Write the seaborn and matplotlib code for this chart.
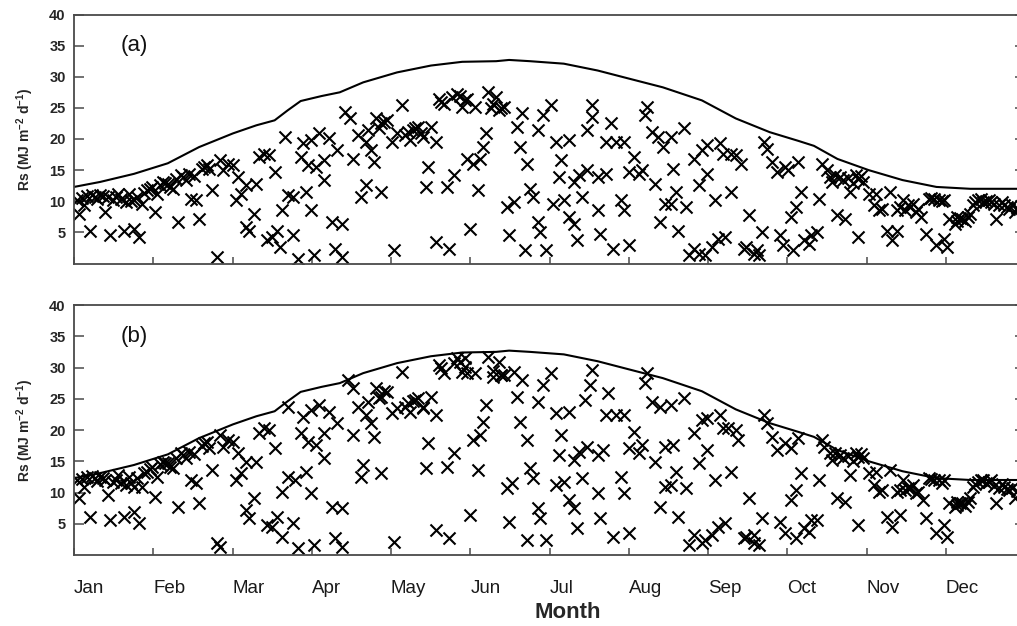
import matplotlib
matplotlib.use("Agg")
import matplotlib.pyplot as plt
import seaborn as sns

# ------------------------------------------------------------
# dati (giorno dell'anno, Rs in MJ m-2 d-1)
# ------------------------------------------------------------
MONTHS = ["Jan", "Feb", "Mar", "Apr", "May", "Jun",
          "Jul", "Aug", "Sep", "Oct", "Nov", "Dec"]

# curva di radiazione a cielo sereno (uguale nei due pannelli)
curve_days = [0, 10, 23, 36, 48, 61, 70, 77, 82, 87, 95, 102, 111, 124, 137, 149, 162,
              167, 175, 188, 201, 213, 226, 241, 254, 267, 278, 284, 293, 305,
              318, 331, 344, 356, 365]
curve_rs = [12.3, 13.1, 14.4, 16.1, 18.7, 20.9, 22.2, 23.0, 24.6, 26.1, 26.9, 27.5, 29.1,
            30.7, 31.8, 32.4, 32.5, 32.7, 32.5, 32.1, 31.0, 29.7, 28.3, 26.2,
            23.3, 21.1, 19.7, 18.9, 16.8, 15.0, 13.4, 12.3, 12.0, 12.0, 12.0]

# pannello (a)
days_a = [1, 2, 4, 6, 8, 10, 12, 13, 14, 16, 18, 19, 20, 21, 23, 23, 25, 26, 28, 30,
          31, 32, 34, 36, 37, 38, 40, 41, 43, 44, 45, 47, 48, 50, 51, 52, 53, 55, 56, 57,
          59, 61, 62, 63, 64, 66, 66, 67, 69, 70, 71, 73, 74, 75, 76, 77, 78, 79, 80, 81,
          82, 84, 84, 86, 87, 88, 89, 90, 91, 91, 92, 93, 94, 96, 96, 98, 99, 100, 101, 103,
          103, 104, 106, 107, 109, 110, 112, 112, 113, 114, 115, 116, 118, 118, 120, 122, 123, 124, 126, 127,
          129, 131, 132, 133, 135, 136, 137, 139, 139, 140, 142, 143, 144, 145, 146, 147, 149, 151, 151, 152,
          153, 154, 155, 156, 157, 158, 159, 160, 162, 163, 165, 166, 167, 169, 170, 171, 172, 173, 174, 175,
          176, 178, 178, 179, 180, 181, 183, 184, 185, 186, 187, 188, 190, 190, 192, 192, 193, 194, 195, 197,
          197, 199, 199, 201, 201, 202, 204, 204, 206, 207, 208, 210, 211, 211, 213, 213, 215, 217, 218, 219,
          220, 222, 223, 224, 225, 226, 227, 229, 230, 231, 229, 232, 234, 235, 236, 238, 238, 240, 240, 241,
          242, 243, 243, 245, 246, 247, 248, 249, 250, 252, 252, 254, 256, 257, 258, 259, 261, 262, 263, 264,
          265, 266, 268, 270, 271, 272, 273, 274, 275, 276, 277, 278, 279, 280, 282, 283, 285, 286, 287, 289,
          290, 291, 293, 294, 295, 296, 298, 300, 301, 301, 303, 305, 307, 308, 309, 310, 312, 313, 314, 316,
          316, 318, 319, 321, 322, 323, 325, 327, 328, 330, 331, 332, 334, 334, 335, 336, 338, 339, 341, 343,
          345, 347, 349, 351, 352, 354, 355, 357, 359, 361,
          3, 5, 7, 9, 11, 15, 17, 22, 24, 27, 29, 33, 35, 39, 42, 46, 49, 339, 340, 342,
          344, 346, 348, 350, 353, 356, 358, 360, 362, 292, 297, 299, 302, 317, 320, 324, 329, 333, 141, 148,
          150, 161, 164, 128, 130, 134, 119, 117]
rs_a = [10.2, 8.0, 9.4, 5.3, 10.7, 11.0, 8.3, 10.7, 4.5, 10.7, 10.4, 5.3, 9.9, 11.2, 10.2, 5.6, 4.3, 9.6, 11.8, 12.3,
        8.3, 11.2, 13.1, 12.8, 12.3, 12.0, 6.7, 14.2, 13.4, 14.4, 10.4, 10.2, 7.2, 15.5, 15.8, 15.2, 11.8, 1.1, 16.6, 15.0,
        16.0, 15.8, 10.2, 13.9, 11.2, 12.6, 5.9, 5.3, 8.0, 12.8, 17.1, 17.6, 3.7, 17.4, 4.3, 14.7, 5.3, 2.7, 8.6, 20.3,
        11.0, 4.5, 10.7, 0.8, 17.1, 19.3, 11.5, 15.8, 19.8, 8.6, 1.3, 15.5, 20.9, 16.6, 13.4, 20.1, 6.7, 2.4, 18.2, 1.1,
        6.4, 24.3, 23.3, 16.8, 20.6, 10.7, 12.6, 19.5, 21.4, 18.2, 16.3, 23.3, 11.5, 22.5, 23.0, 19.5, 2.1, 20.9, 25.4, 20.6,
        19.8, 21.7, 21.9, 20.9, 12.3, 15.5, 21.9, 3.5, 19.5, 26.5, 25.7, 12.3, 2.4, 26.7, 14.2, 27.3, 25.1, 16.8, 26.5, 5.6,
        16.0, 25.1, 11.8, 16.8, 18.7, 20.9, 27.5, 24.9, 26.7, 24.6, 25.1, 9.1, 4.5, 9.9, 21.9, 18.7, 24.1, 2.1, 16.0, 12.0,
        10.7, 21.4, 6.7, 5.1, 23.8, 2.1, 25.4, 9.6, 19.5, 13.9, 16.6, 10.2, 19.8, 7.5, 13.1, 6.4, 3.7, 14.2, 10.7, 21.4,
        15.0, 23.5, 25.4, 13.9, 8.6, 4.8, 14.4, 19.5, 22.5, 2.4, 19.5, 10.2, 19.5, 8.6, 14.7, 2.9, 17.1, 14.4, 15.0, 23.8,
        25.1, 21.1, 12.8, 20.3, 6.7, 18.7, 9.6, 20.3, 15.2, 11.5, 9.6, 5.3, 21.7, 9.1, 1.3, 2.4, 16.8, 12.6, 1.6, 18.2,
        1.3, 19.0, 14.4, 2.7, 10.2, 4.0, 19.3, 17.6, 4.3, 17.6, 11.5, 17.4, 16.0, 2.4, 2.7, 7.8, 1.6, 2.1, 1.3, 5.1,
        19.5, 18.4, 16.3, 14.7, 4.5, 2.9, 15.5, 15.0, 7.5, 2.1, 9.1, 16.3, 11.5, 3.7, 3.2, 4.5, 5.1, 10.4, 16.0, 15.0,
        13.9, 13.1, 7.8, 13.9, 13.4, 7.2, 11.5, 14.2, 4.3, 13.6, 13.1, 11.2, 9.4, 11.2, 8.6, 8.8, 5.3, 11.5, 3.7, 8.6,
        5.3, 10.2, 8.6, 9.1, 9.6, 8.3, 7.5, 4.8, 10.4, 10.4, 2.9, 10.2, 10.2, 4.0, 2.7, 7.2, 6.4, 7.5, 7.2, 7.5,
        9.4, 10.2, 9.9, 10.2, 9.9, 7.2, 9.4, 9.4, 8.8, 8.3,
        10.6, 10.9, 11.0, 10.3, 10.8, 10.2, 11.1, 10.1, 10.7, 11.4, 12.0, 12.6, 12.9, 13.6, 13.9, 14.1, 15.2, 6.9, 7.3, 6.8,
        7.9, 9.8, 10.4, 10.0, 9.6, 9.8, 9.1, 9.4, 8.9, 14.2, 13.8, 13.0, 14.0, 9.0, 9.4, 8.8, 10.6, 10.0, 26.0, 26.9,
        26.2, 25.6, 25.0, 21.2, 21.5, 20.4, 22.8, 21.8]

# pannello (b)
days_b = [1, 2, 4, 6, 8, 10, 12, 13, 14, 16, 18, 19, 20, 21, 23, 23, 25, 26, 28, 30,
          31, 32, 34, 36, 37, 38, 40, 41, 43, 44, 45, 47, 48, 50, 51, 52, 53, 55, 56, 56,
          57, 59, 61, 62, 63, 64, 66, 66, 67, 69, 70, 71, 73, 74, 75, 76, 77, 78, 80, 80,
          82, 82, 84, 85, 86, 87, 88, 89, 90, 91, 91, 92, 93, 94, 96, 96, 98, 99, 100, 101,
          103, 103, 105, 107, 107, 109, 110, 111, 112, 113, 114, 115, 116, 118, 118, 120, 122, 123, 124, 126,
          127, 129, 131, 132, 134, 135, 136, 137, 139, 139, 140, 142, 143, 144, 146, 146, 147, 149, 150, 151,
          152, 153, 154, 155, 156, 157, 158, 159, 161, 163, 164, 165, 166, 167, 168, 169, 170, 171, 172, 174,
          174, 175, 176, 178, 178, 179, 180, 181, 183, 185, 185, 186, 187, 188, 190, 190, 192, 192, 193, 194,
          195, 196, 197, 198, 199, 201, 201, 202, 203, 204, 205, 207, 208, 210, 211, 211, 213, 213, 215, 217,
          218, 219, 220, 222, 223, 225, 225, 227, 227, 229, 230, 231, 229, 232, 234, 235, 236, 238, 238, 240,
          241, 241, 242, 243, 243, 245, 246, 247, 248, 249, 250, 251, 252, 254, 255, 257, 258, 259, 261, 261,
          263, 264, 265, 266, 268, 270, 271, 273, 273, 275, 275, 277, 277, 278, 279, 280, 282, 283, 285, 286,
          287, 288, 290, 291, 293, 294, 295, 296, 298, 300, 301, 301, 303, 305, 307, 308, 309, 310, 312, 313,
          314, 316, 317, 318, 319, 321, 322, 323, 326, 327, 328, 330, 331, 332, 334, 334, 335, 336, 338, 339,
          341, 343, 345, 347, 349, 351, 352, 354, 355, 357, 359, 361,
          3, 5, 7, 9, 11, 15, 17, 22, 24, 27, 29, 33, 35, 39, 42, 46, 49, 339, 340, 342,
          344, 346, 348, 350, 353, 356, 358, 360, 362, 292, 297, 299, 302, 317, 320, 324, 329, 333, 141, 148,
          150, 161, 164, 128, 130, 134, 119, 117]
rs_b = [12.0, 9.1, 10.9, 6.1, 12.3, 12.5, 12.0, 9.6, 5.6, 12.0, 11.5, 6.1, 11.2, 12.5, 10.9, 6.9, 5.1, 10.9, 13.3, 14.1,
        9.3, 12.5, 14.9, 14.7, 14.1, 13.9, 7.7, 16.3, 15.5, 16.5, 12.0, 11.5, 8.3, 17.9, 18.1, 17.1, 13.6, 1.9, 1.3, 19.2,
        17.3, 18.4, 18.1, 12.0, 16.3, 13.1, 14.9, 7.2, 5.9, 9.1, 14.9, 19.5, 20.3, 4.8, 20.0, 4.5, 17.1, 6.1, 2.9, 10.1,
        23.7, 12.5, 5.1, 12.0, 1.1, 19.5, 22.1, 13.3, 18.1, 23.2, 9.9, 1.6, 17.6, 24.0, 19.5, 15.5, 22.9, 7.7, 2.7, 21.1,
        1.3, 7.5, 28.0, 26.7, 19.2, 23.7, 12.5, 14.4, 22.4, 24.5, 21.1, 18.9, 26.7, 13.1, 25.3, 26.1, 22.7, 2.1, 23.5, 29.3,
        23.7, 22.9, 24.8, 25.1, 23.7, 13.9, 17.9, 25.3, 4.0, 22.4, 30.4, 29.1, 14.1, 2.7, 16.3, 30.7, 31.5, 29.3, 31.5, 29.1,
        6.4, 18.4, 29.1, 13.6, 19.2, 21.3, 24.0, 31.7, 28.5, 30.9, 28.8, 28.8, 10.7, 5.3, 11.5, 29.3, 25.3, 21.3, 28.0, 2.4,
        18.4, 13.9, 12.3, 24.5, 7.5, 5.9, 27.2, 2.4, 29.1, 11.2, 22.7, 16.0, 19.2, 11.7, 22.9, 8.8, 15.2, 7.5, 4.3, 16.5,
        12.3, 24.8, 17.3, 27.2, 29.6, 16.0, 9.9, 5.9, 16.8, 22.4, 25.9, 2.9, 22.4, 12.5, 22.4, 9.9, 17.1, 3.5, 19.7, 16.3,
        17.6, 27.5, 29.1, 24.5, 14.9, 23.7, 7.7, 17.3, 10.9, 24.0, 17.6, 13.3, 11.2, 6.1, 25.1, 10.7, 1.6, 3.2, 19.5, 14.7,
        1.9, 21.6, 2.4, 21.9, 16.8, 3.2, 12.0, 4.5, 22.4, 20.3, 5.1, 20.3, 13.3, 20.0, 18.4, 2.7, 2.9, 9.1, 1.9, 3.2,
        1.6, 5.9, 22.4, 21.1, 18.9, 16.8, 5.3, 3.5, 17.9, 17.1, 8.8, 2.7, 10.4, 18.7, 13.1, 4.3, 3.7, 5.6, 5.6, 12.0,
        18.4, 17.3, 16.3, 15.2, 9.1, 16.0, 15.5, 8.5, 12.8, 16.3, 4.8, 15.7, 15.5, 13.1, 11.2, 13.3, 10.1, 10.4, 6.1, 13.6,
        4.5, 10.1, 6.4, 12.0, 10.4, 10.7, 11.2, 9.9, 8.8, 5.9, 12.3, 12.0, 3.5, 12.0, 12.0, 4.8, 2.9, 8.3, 7.7, 8.5,
        8.3, 8.5, 10.9, 11.7, 12.0, 11.7, 12.0, 8.3, 10.7, 10.9, 10.4, 9.1,
        12.2, 12.5, 12.7, 11.9, 12.4, 11.7, 12.8, 11.6, 12.3, 13.1, 13.8, 14.5, 14.8, 15.6, 16.0, 16.2, 17.5, 8.0, 8.4, 7.8,
        9.1, 11.3, 12.0, 11.5, 11.0, 11.3, 10.5, 10.8, 10.2, 16.3, 15.9, 15.0, 16.1, 10.4, 10.8, 10.1, 12.2, 11.5, 29.9, 30.9,
        30.1, 29.4, 28.8, 24.4, 24.7, 23.5, 26.2, 25.1]

# ------------------------------------------------------------
# stile
# ------------------------------------------------------------
sns.set_theme(style="white")
plt.rcParams["font.family"] = ["Liberation Sans", "DejaVu Sans"]
plt.rcParams["mathtext.fontset"] = "custom"
plt.rcParams["mathtext.rm"] = "Liberation Sans"
plt.rcParams["mathtext.bf"] = "Liberation Sans:bold"

W, H = 1017, 626
fig = plt.figure(figsize=(W / 100, H / 100), dpi=100)

# assi: (a) in alto, (b) in basso; il bordo destro esce leggermente dall'immagine
ax_a = fig.add_axes([74 / W, 1 - 263.5 / H, (1025 - 74) / W, 249 / H])
ax_b = fig.add_axes([74 / W, 1 - 555 / H, (1025 - 74) / W, 250 / H])

SPINE = "#4a4a4a"
month_pos = [k * 365 / 12 for k in range(12)]

for ax, days, rs, tag in [(ax_a, days_a, rs_a, "(a)"), (ax_b, days_b, rs_b, "(b)")]:
    sns.lineplot(x=curve_days, y=curve_rs, ax=ax, color="black", linewidth=1.5)
    sns.scatterplot(x=days, y=rs, ax=ax, marker="x", color="black", s=75, linewidth=1.5)

    ax.set_xlim(0, 365)
    ax.set_ylim(0, 40)
    ax.set_yticks([5, 10, 15, 20, 25, 30, 35, 40])
    ax.set_xlabel("")
    ax.set_ylabel("")

    for sp in ax.spines.values():
        sp.set_color(SPINE)
        sp.set_linewidth(1.3)

    ax.tick_params(axis="y", direction="in", length=7, width=1.1, color=SPINE,
                   left=True, right=True, pad=6)
    for lbl in ax.get_yticklabels():
        lbl.set_fontsize(10.5)
        lbl.set_fontweight("bold")

    ax.text(18, 35, tag, fontsize=16, va="center", ha="left", color="#111111")

# tacche dei mesi
ax_a.set_xticks(month_pos, [""] * 12)
ax_a.tick_params(axis="x", direction="in", length=5, width=1.1, color=SPINE, bottom=True)

ax_b.set_xticks(month_pos, MONTHS)
ax_b.tick_params(axis="x", direction="in", length=5, width=1.1, color=SPINE,
                 bottom=True, pad=18, labelsize=13.5)
for lbl in ax_b.get_xticklabels():
    lbl.set_horizontalalignment("left")
    lbl.set_color("#1a1a1a")

# etichette assi
ylab = r"Rs (MJ m$^{\mathbf{-2}}$ d$^{\mathbf{-1}}$)"
fig.text(25 / W, 1 - 139 / H, ylab, rotation=90, ha="center", va="center",
         fontsize=10, fontweight="bold")
fig.text(25 / W, 1 - 430 / H, ylab, rotation=90, ha="center", va="center",
         fontsize=10, fontweight="bold")
fig.text(568 / W, 1 - 613 / H, "Month", ha="center", va="center",
         fontsize=16, fontweight="bold")

plt.savefig("out.png", dpi=100)
plt.close()
